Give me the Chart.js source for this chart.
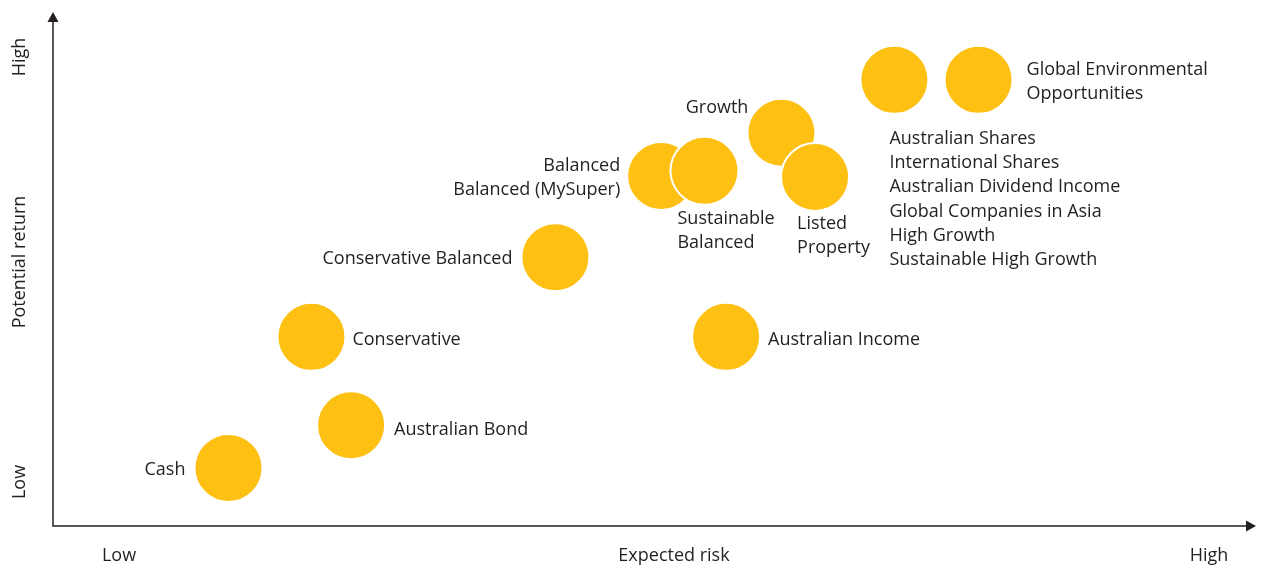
<!DOCTYPE html>
<html>
<head>
<meta charset="utf-8">
<script src="https://cdn.jsdelivr.net/npm/chart.js@4"></script>
<style>
  html, body { margin: 0; padding: 0; background: #fff; }
  #wrap { width: 1267px; height: 568px; }
</style>
</head>
<body>
<div id="wrap"><canvas id="myChart"></canvas></div>
<script>
// Options, in drawing order (later ones sit on top)
const options = [
  ["Cash"],
  ["Australian Bond"],
  ["Conservative"],
  ["Conservative Balanced"],
  ["Australian Income"],
  ["Balanced", "Balanced (MySuper)"],
  ["Sustainable", "Balanced"],
  ["Growth"],
  ["Listed", "Property"],
  ["Australian Shares", "International Shares", "Australian Dividend Income", "Global Companies in Asia", "High Growth", "Sustainable High Growth"],
  ["Global Environmental", "Opportunities"]
];
// Expected risk (0 = low, 100 = high)
const riskValues = [14.6, 24.8, 21.5, 41.8, 56.0, 50.6, 54.2, 60.6, 63.4, 70.0, 77.0];
// Potential return (0 = low, 100 = high)
const returnValues = [11.3, 19.6, 36.8, 52.3, 36.8, 68.1, 69.1, 76.5, 67.9, 86.8, 86.8];

const xAxisLabels = ["Low", "Expected risk", "High"];
const yAxisLabels = ["Low", "Potential return", "High"];

// where each label sits relative to its bubble: [dx, dy of first line, align]
const labelPlacement = [
  [-43, 2, "right"],
  [43, 5, "left"],
  [41, 3, "left"],
  [-43, 2, "right"],
  [42, 3, "left"],
  [-41, -10, "right"],
  [-27, 48, "left"],
  [-33, -25, "right"],
  [-18, 47, "left"],
  [-5, 59, "left"],
  [48, -10, "left"]
];

const ink = "#231f20";
const yellow = "#fdc013";
const font = '18px "Open Sans", sans-serif';

// bubbles should not shrink the plot area
Chart.BubbleController.prototype.getMaxOverflow = function() { return 0; };

const pointData = riskValues.map((x, i) => ({ x: x, y: returnValues[i] }));

const decor = {
  id: "decor",
  afterDatasetsDraw(chart) {
    const ctx = chart.ctx;
    const a = chart.chartArea;
    const xs = chart.scales.x, ys = chart.scales.y;
    ctx.save();

    // axes with arrow heads
    ctx.strokeStyle = ink;
    ctx.fillStyle = ink;
    ctx.lineWidth = 1.5;
    ctx.beginPath();
    ctx.moveTo(a.left, a.top + 8);
    ctx.lineTo(a.left, a.bottom);
    ctx.lineTo(a.right - 8, a.bottom);
    ctx.stroke();
    ctx.beginPath();
    ctx.moveTo(a.left, a.top);
    ctx.lineTo(a.left - 5.5, a.top + 10);
    ctx.lineTo(a.left + 5.5, a.top + 10);
    ctx.closePath();
    ctx.fill();
    ctx.beginPath();
    ctx.moveTo(a.right + 1, a.bottom);
    ctx.lineTo(a.right - 9, a.bottom - 5.5);
    ctx.lineTo(a.right - 9, a.bottom + 5.5);
    ctx.closePath();
    ctx.fill();

    // axis labels
    ctx.font = font;
    ctx.textBaseline = "middle";
    ctx.textAlign = "center";
    const xPos = [119, 674, 1209];
    xAxisLabels.forEach((t, i) => ctx.fillText(t, xPos[i], a.bottom + 30));
    const yPos = [482, 262, 57];
    yAxisLabels.forEach((t, i) => {
      ctx.save();
      ctx.translate(20, yPos[i]);
      ctx.rotate(-Math.PI / 2);
      ctx.fillText(t, 0, 0);
      ctx.restore();
    });

    // bubble labels
    options.forEach((lines, i) => {
      const px = xs.getPixelForValue(riskValues[i]);
      const py = ys.getPixelForValue(returnValues[i]);
      const p = labelPlacement[i];
      ctx.textAlign = p[2];
      lines.forEach((line, j) => {
        ctx.fillText(line, px + p[0], py + p[1] + j * 24.2);
      });
    });
    ctx.restore();
  }
};

new Chart(document.getElementById("myChart"), {
  type: "bubble",
  data: {
    datasets: [{
      label: "Options",
      data: pointData,
      radius: 34,
      backgroundColor: yellow,
      borderColor: "#ffffff",
      borderWidth: 2,
      hoverRadius: 0
    }]
  },
  options: {
    responsive: true,
    maintainAspectRatio: false,
    animation: false,
    events: [],
    layout: { padding: { left: 53, right: 12, top: 12, bottom: 42 } },
    scales: {
      x: { type: "linear", min: 0, max: 100, display: false },
      y: { type: "linear", min: 0, max: 100, display: false }
    },
    plugins: {
      legend: { display: false },
      tooltip: { enabled: false }
    }
  },
  plugins: [decor]
});
</script>
</body>
</html>
